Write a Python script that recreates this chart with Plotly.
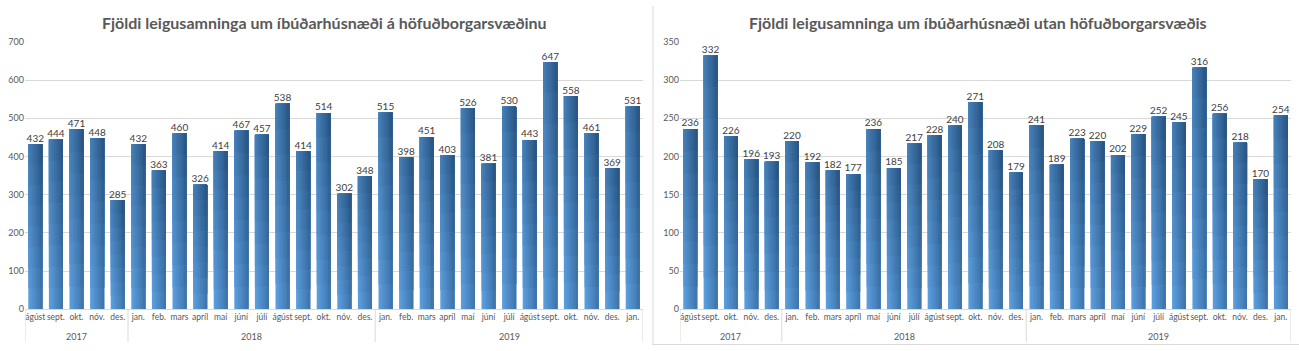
import plotly.graph_objects as go

# ---- data ----
year_labels = ["2017", "2018", "2019"]
year_counts = [5, 12, 13]
months = ["ágúst", "sept.", "okt.", "nóv.", "des.",
          "jan.", "feb.", "mars", "apríl", "maí", "júní", "júlí", "ágúst", "sept.", "okt.", "nóv.", "des.",
          "jan.", "feb.", "mars", "apríl", "maí", "júní", "júlí", "ágúst", "sept.", "okt.", "nóv.", "des.", "jan."]
capital = [432, 444, 471, 448, 285,
           432, 363, 460, 326, 414, 467, 457, 538, 414, 514, 302, 348,
           515, 398, 451, 403, 526, 381, 530, 443, 647, 558, 461, 369, 531]
outside = [236, 332, 226, 196, 193,
           220, 192, 182, 177, 236, 185, 217, 228, 240, 271, 208, 179,
           241, 189, 223, 220, 202, 229, 252, 245, 316, 256, 218, 170, 254]
title_left = "Fjöldi leigusamninga um íbúðarhúsnæði á höfuðborgarsvæðinu"
title_right = "Fjöldi leigusamninga um íbúðarhúsnæði utan höfuðborgarsvæðis"

W, H = 1299, 351
FONT = "Lato"
GRAY = "#595959"
GRID = "#d9d9d9"

c_light = (0x5b, 0x9d, 0xdd)
c_dark = (0x2a, 0x57, 0x85)
NS = 8   # horizontal gradient steps
NV = 8   # vertical gradient steps
BW = 0.68

xs = list(range(len(months)))
fig = go.Figure()

def colour(u, v):
    t = min(1.0, max(0.0, 0.55 * u + 0.45 * v))
    return "rgb(%d,%d,%d)" % tuple(round(c_light[k] + (c_dark[k] - c_light[k]) * t) for k in range(3))

def add_panel(vals, xa, ya):
    # gradient fill: each layer spans from its start to the bar end, later layers overlap earlier ones
    for j in range(NV):
        base = [v * j / NV for v in vals]
        height = [v - b for v, b in zip(vals, base)]
        for i in range(NS):
            fig.add_trace(go.Bar(
                x=xs, y=height, base=base, xaxis=xa, yaxis=ya,
                width=BW * (NS - i) / NS, offset=-BW / 2 + i * BW / NS,
                marker=dict(color=colour(i / (NS - 1), j / (NV - 1)), line=dict(width=0)),
                showlegend=False, hoverinfo="skip"))
    fig.add_trace(go.Scatter(
        x=xs, y=vals, xaxis=xa, yaxis=ya, mode="text",
        text=[str(v) for v in vals], textposition="top center",
        textfont=dict(family=FONT, size=10, color="#404040"),
        showlegend=False, hoverinfo="skip", cliponaxis=False))

add_panel(capital, "x", "y")
add_panel(outside, "x2", "y2")

n = len(months)
xcommon = dict(type="linear", range=[-0.5, n - 0.5], showgrid=False, zeroline=False,
               showline=True, linecolor=GRID, linewidth=1, ticks="",
               tickvals=xs, ticktext=months, tickangle=0,
               tickfont=dict(family=FONT, size=8.5, color=GRAY), fixedrange=True)
ycommon = dict(showgrid=True, gridcolor=GRID, gridwidth=1, zeroline=False, showline=False,
               ticks="", tickfont=dict(family=FONT, size=9, color=GRAY), fixedrange=True)

y0 = 1 - 313 / H
y1 = 1 - 37 / H

annotations = [
    dict(text="<b>%s</b>" % title_left, x=324 / W, y=1 - 17 / H, xref="paper", yref="paper",
         xanchor="center", yanchor="middle", showarrow=False,
         font=dict(family=FONT, size=16, color=GRAY)),
    dict(text="<b>%s</b>" % title_right, x=978 / W, y=1 - 17 / H, xref="paper", yref="paper",
         xanchor="center", yanchor="middle", showarrow=False,
         font=dict(family=FONT, size=16, color=GRAY)),
]
shapes = [
    dict(type="line", xref="paper", yref="paper", x0=653 / W, x1=653 / W, y0=1 - 350 / H, y1=1,
         line=dict(color=GRID, width=1)),
    dict(type="line", xref="paper", yref="paper", x0=653 / W, x1=1, y0=1 - 349.5 / H, y1=1 - 349.5 / H,
         line=dict(color=GRID, width=1)),
]

for xr in ("x", "x2"):
    start = -0.5
    bounds = [start]
    for lab, cnt in zip(year_labels, year_counts):
        end = start + cnt
        annotations.append(dict(text=lab, x=(start + end) / 2, xref=xr, y=1 - 341 / H, yref="paper",
                                xanchor="center", yanchor="middle", showarrow=False,
                                font=dict(family=FONT, size=9, color=GRAY)))
        bounds.append(end)
        start = end
    for b in bounds:
        shapes.append(dict(type="line", xref=xr, yref="paper", x0=b, x1=b,
                           y0=y0, y1=1 - 347 / H, line=dict(color=GRID, width=1)))

fig.update_layout(
    width=W, height=H, margin=dict(l=0, r=0, t=0, b=0),
    paper_bgcolor="white", plot_bgcolor="white", barmode="overlay",
    xaxis=dict(domain=[25 / W, 643 / W], anchor="y", **xcommon),
    yaxis=dict(domain=[y0, y1], range=[0, 700], dtick=100, anchor="x", **ycommon),
    xaxis2=dict(domain=[680 / W, 1291 / W], anchor="y2", **xcommon),
    yaxis2=dict(domain=[y0, y1], range=[0, 350], dtick=50, anchor="x2", **ycommon),
    annotations=annotations,
    shapes=shapes,
)

fig.write_html("out.html")
